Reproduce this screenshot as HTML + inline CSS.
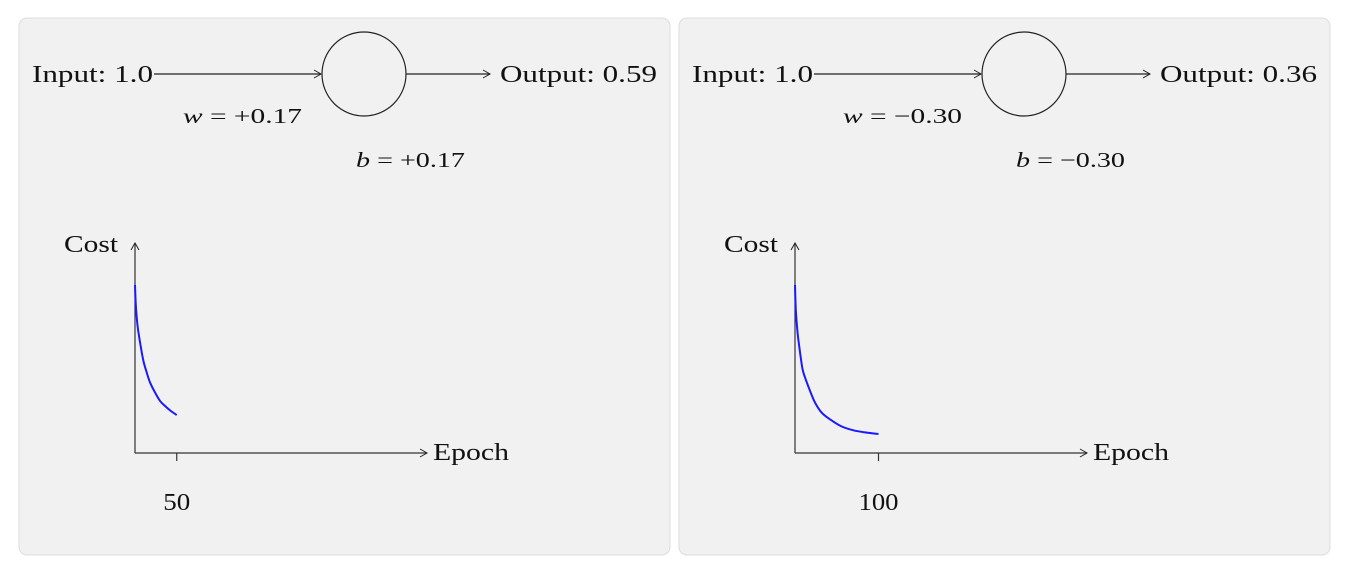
<!DOCTYPE html>
<html><head><meta charset="utf-8"><style>
body{margin:0;background:#fff;width:1356px;height:572px;overflow:hidden;font-family:"Liberation Serif",serif}
svg{position:absolute;left:0;top:0}
text{font-family:"Liberation Serif",serif;font-size:24px;fill:#111}
.m{font-size:21px}
</style></head><body>
<svg id="s" width="1356" height="572">
<defs><marker id="ar" markerWidth="10" markerHeight="10" refX="8" refY="5" orient="auto" markerUnits="userSpaceOnUse"><path d="M1,1 L8,5 L1,9" fill="none" stroke="#222" stroke-width="1"/></marker></defs>
</svg>
<script>
const panels=[
 {x0:0,w:"+0.17",b:"+0.17",out:"0.59",tick:50,tl:27},
 {x0:660,w:"\u22120.30",b:"\u22120.30",out:"0.36",tick:100,tl:40}];
const epochsA=[0,1,3,6,10,14,18,24,30,36,43,50];
const costA=[1.0,0.88,0.76,0.66,0.55,0.48,0.42,0.36,0.31,0.28,0.25,0.226];
const epochsB=[0,1,3,6,9,12,18,24,32,42,55,70,85,100];
const costB=[1.0,0.85,0.72,0.6,0.5,0.45,0.37,0.3,0.24,0.2,0.16,0.135,0.122,0.113];
const series=[[epochsA,costA],[epochsB,costB]];
const S=document.getElementById('s'),NS='http://www.w3.org/2000/svg';
function el(t,a,txt){const e=document.createElementNS(NS,t);for(const k in a)e.setAttribute(k,a[k]);if(txt!=null)e.textContent=txt;S.appendChild(e);return e;}
panels.forEach((p,i)=>{
 const o=p.x0;
 const xs=ep=>o+135+ep*0.835, ys=c=>453-c*168;
 let e=el('rect',{x:o+19,y:18,width:651,height:537,rx:8,fill:'#f1f1f1',stroke:'#ddd'});
 
 
 e=el('text',{x:o+32,y:82,textLength:121,lengthAdjust:'spacingAndGlyphs'},'Input: 1.0');
 
 
 el('line',{x1:o+154,y1:74,x2:o+321,y2:74,stroke:'#222','stroke-width':1.2,'marker-end':'url(#ar)'});
 e=el('ellipse',{cx:o+364,cy:74,rx:42,ry:42,fill:'none',stroke:'#222','stroke-width':1.2});
 
 
 el('line',{x1:o+406,y1:74,x2:o+490,y2:74,stroke:'#222','stroke-width':1.2,'marker-end':'url(#ar)'});
 e=el('text',{x:o+500,y:82,textLength:157,lengthAdjust:'spacingAndGlyphs'},'Output: '+p.out);
 
 
 e=el('text',{x:o+183,y:123,class:'m',textLength:119,lengthAdjust:'spacingAndGlyphs'});e.innerHTML='<tspan font-style="italic">w</tspan> = '+p.w;
 
 
 e=el('text',{x:o+356,y:167,class:'m',textLength:109,lengthAdjust:'spacingAndGlyphs'});e.innerHTML='<tspan font-style="italic">b</tspan> = '+p.b;
 
 
 el('line',{x1:o+135,y1:453,x2:o+135,y2:243,stroke:'#333','stroke-width':1.2,'marker-end':'url(#ar)'});
 el('line',{x1:o+135,y1:453,x2:o+427,y2:453,stroke:'#333','stroke-width':1.2,'marker-end':'url(#ar)'});
 e=el('text',{x:o+64,y:252,textLength:54,lengthAdjust:'spacingAndGlyphs'},'Cost');
 
 
 e=el('text',{x:o+433,y:460,textLength:76,lengthAdjust:'spacingAndGlyphs'},'Epoch');
 
 
 el('line',{x1:xs(p.tick),y1:453,x2:xs(p.tick),y2:461,stroke:'#333','stroke-width':1.2});
 e=el('text',{x:xs(p.tick)-p.tl/2,y:510,textLength:p.tl,lengthAdjust:'spacingAndGlyphs'},String(p.tick));
 
 
 const [ex,cy]=series[i];
 const pts=ex.map((v,k)=>[xs(v),ys(cy[k])]);
 let d='M'+pts[0];
 for(let k=0;k<pts.length-1;k++){const p0=pts[k-1]||pts[k],p1=pts[k],p2=pts[k+1],p3=pts[k+2]||p2;
  d+=' C'+(p1[0]+(p2[0]-p0[0])/6)+','+(p1[1]+(p2[1]-p0[1])/6)+' '+(p2[0]-(p3[0]-p1[0])/6)+','+(p2[1]-(p3[1]-p1[1])/6)+' '+p2[0]+','+p2[1];}
 e=el('path',{d:d,fill:'none',stroke:'#1a1aff','stroke-width':2});
 
 
});
</script>
</body></html>
